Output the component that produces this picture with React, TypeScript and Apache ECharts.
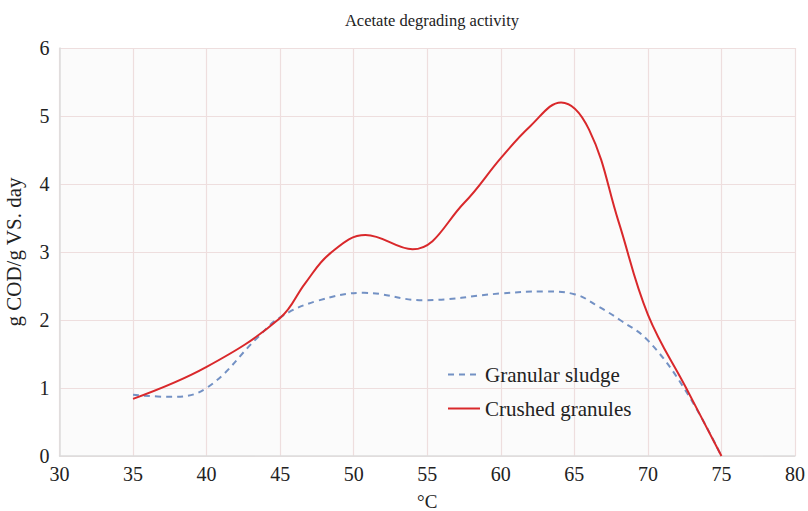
import React, { useEffect, useRef } from "react";
import * as echarts from "echarts";

const titleText = "Acetate degrading activity";
const xName = "°C";
const yName = "g COD/g VS. day";
const seriesNames = ["Granular sludge", "Crushed granules"];

const granularSludge: [number, number][] = [
  [35, 0.9], [37.5, 0.87], [40, 1.0], [43.5, 1.75], [45, 2.04], [47.5, 2.28],
  [50.7, 2.4], [54.7, 2.29], [60, 2.39], [63, 2.42], [65, 2.38], [66.7, 2.19],
  [68.1, 2.0], [70, 1.7], [72.6, 0.95], [75, 0],
];
const crushedGranules: [number, number][] = [
  [35, 0.84], [40, 1.31], [45, 2.03], [46.7, 2.54], [48.4, 2.98], [50.8, 3.25],
  [54, 3.04], [57.5, 3.72], [60, 4.38], [62, 4.85], [64.1, 5.2], [66, 4.8],
  [68, 3.45], [70, 2.08], [72.6, 1.0], [75, 0],
];

const serif = "'Liberation Serif', 'DejaVu Serif', serif";

export default function App() {
  const ref = useRef<HTMLDivElement>(null);
  useEffect(() => {
    if (!ref.current) return;
    const chart = echarts.init(ref.current, null, { renderer: "svg" });
    chart.setOption({
      animation: false,
      backgroundColor: "#ffffff",
      textStyle: { fontFamily: serif },
      title: {
        text: titleText,
        left: 427,
        top: 7,
        textAlign: "center",
        textStyle: { fontFamily: serif, fontSize: 16.5, fontWeight: "normal", color: "#222" },
      },
      legend: {
        left: 442,
        top: 359,
        orient: "vertical",
        itemWidth: 32,
        itemHeight: 10,
        itemGap: 13,
        itemStyle: { opacity: 0 },
        textStyle: { fontFamily: serif, fontSize: 21, color: "#222" },
        data: seriesNames,
      },
      grid: {
        left: 59.5,
        right: 13,
        top: 48,
        bottom: 55,
        show: true,
        containLabel: false,
        outerBoundsMode: "none",
        backgroundColor: "#fbfbfb",
        borderWidth: 0,
      },
      xAxis: {
        type: "value",
        min: 30,
        max: 80,
        interval: 5,
        name: xName,
        nameLocation: "middle",
        nameGap: 36,
        nameTextStyle: { fontFamily: serif, fontSize: 19, color: "#222" },
        axisLine: { show: true, lineStyle: { color: "#dcdcdc", width: 1.5 } },
        axisTick: { show: false },
        axisLabel: { fontFamily: serif, fontSize: 20, color: "#222", margin: 8 },
        splitLine: { show: true, lineStyle: { color: "#eedede", width: 1.2 } },
      },
      yAxis: {
        type: "value",
        min: 0,
        max: 6,
        interval: 1,
        name: yName,
        nameLocation: "middle",
        nameGap: 35,
        nameTextStyle: { fontFamily: serif, fontSize: 21, color: "#222" },
        axisLine: { show: true, lineStyle: { color: "#dcdcdc", width: 1.5 } },
        axisTick: { show: false },
        axisLabel: { fontFamily: serif, fontSize: 20, color: "#222", margin: 10 },
        splitLine: { show: true, lineStyle: { color: "#eedede", width: 1.2 } },
      },
      series: [
        {
          name: seriesNames[0],
          type: "line",
          data: granularSludge,
          smooth: 0.4,
          showSymbol: false,
          symbol: "none",
          lineStyle: { color: "#7391c4", width: 2, type: [6, 5] },
          itemStyle: { color: "#7391c4" },
        },
        {
          name: seriesNames[1],
          type: "line",
          data: crushedGranules,
          smooth: 0.4,
          showSymbol: false,
          symbol: "none",
          lineStyle: { color: "#d9282b", width: 2 },
          itemStyle: { color: "#d9282b" },
        },
      ],
    });
    return () => chart.dispose();
  }, []);
  return (
    <div
      ref={ref}
      style={{ position: "fixed", left: 0, top: 0, width: 808, height: 511 }}
    />
  );
}
